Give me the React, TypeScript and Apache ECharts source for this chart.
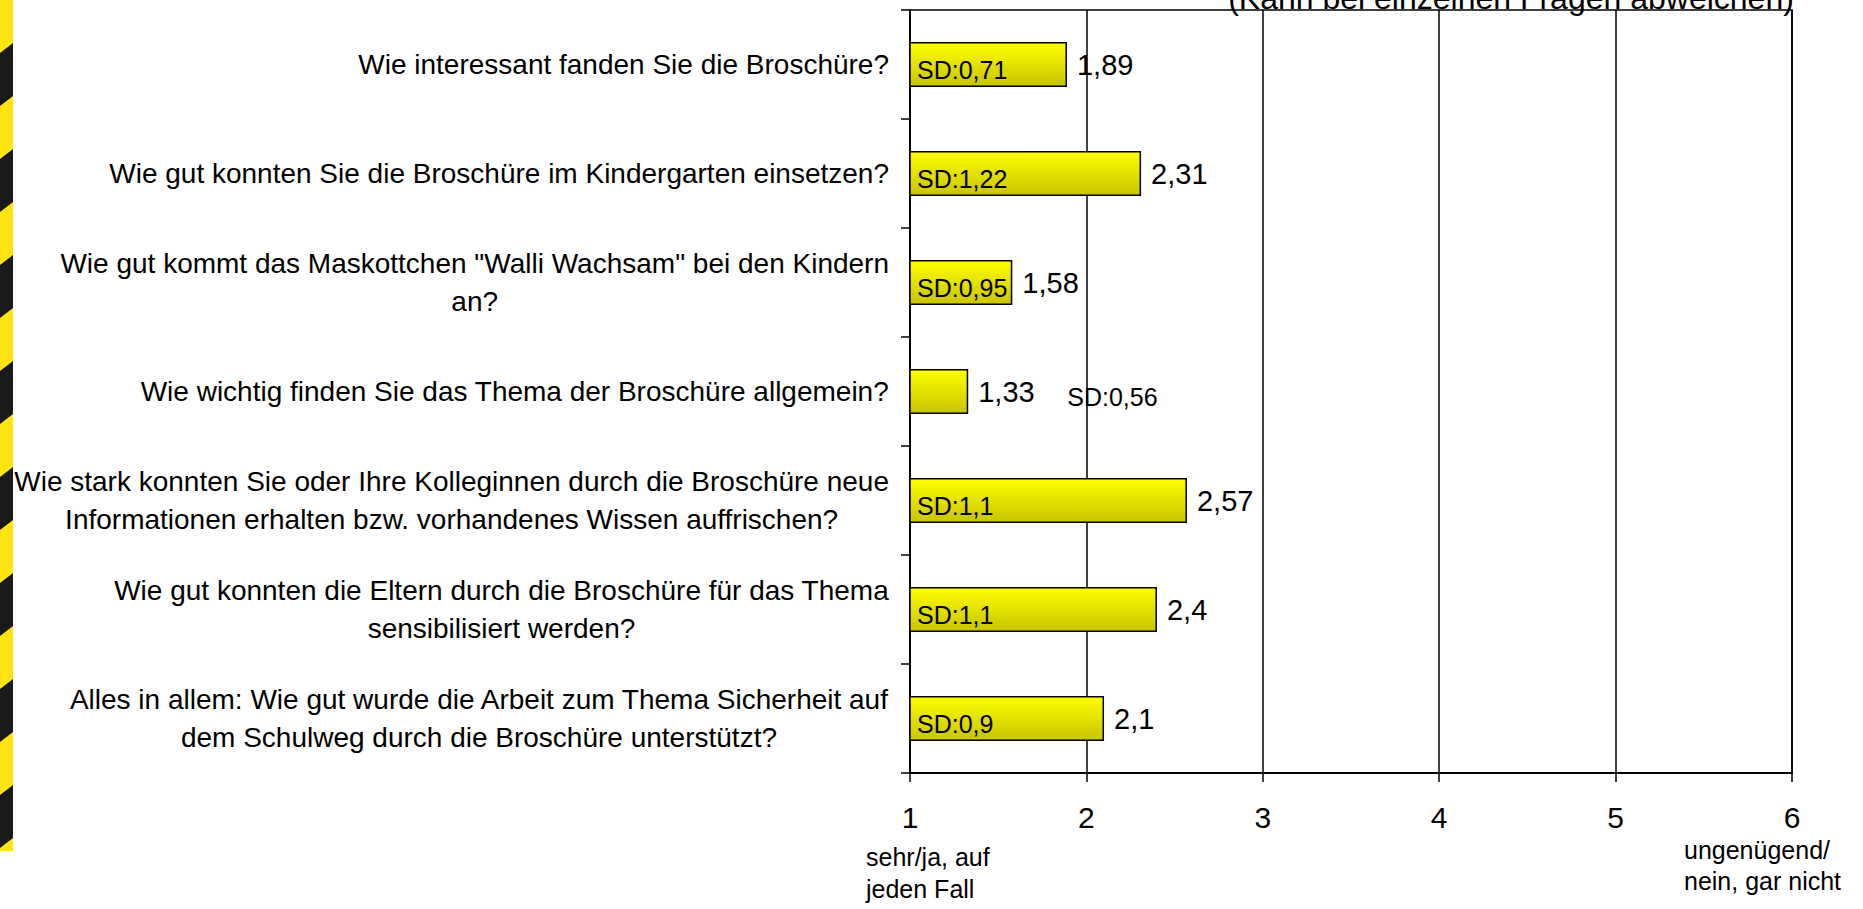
import React, { useEffect, useRef } from 'react';
import * as echarts from 'echarts';

const categories: string[] = [
  'Wie interessant fanden Sie die Broschüre?',
  'Wie gut konnten Sie die Broschüre im Kindergarten einsetzen?',
  'Wie gut kommt das Maskottchen "Walli Wachsam" bei den Kindern\nan?',
  'Wie wichtig finden Sie das Thema der Broschüre allgemein?',
  'Wie stark konnten Sie oder Ihre Kolleginnen durch die Broschüre neue\nInformationen erhalten bzw. vorhandenes Wissen auffrischen?',
  'Wie gut konnten die Eltern durch die Broschüre für das Thema\nsensibilisiert werden?',
  'Alles in allem: Wie gut wurde die Arbeit zum Thema Sicherheit auf\ndem Schulweg durch die Broschüre unterstützt?',
];
const meanValues: number[] = [1.89, 2.31, 1.58, 1.33, 2.57, 2.4, 2.1];
const sdValues: number[] = [0.71, 1.22, 0.95, 0.56, 1.1, 1.1, 0.9];
const scaleMin = 1;
const scaleMax = 6;
const scaleStep = 1;
const lowEndLabel = 'sehr/ja, auf\njeden Fall';
const highEndLabel = 'ungenügend/\nnein, gar nicht';
const noteText = '(Kann bei einzelnen Fragen abweichen)';

const FONT = '"Liberation Sans", Arial, Helvetica, sans-serif';
const fmt = (v: number) => String(v).replace('.', ',');

function buildStripes() {
  const els: any[] = [];
  const H = 851;
  const W = 13;
  const P = 106;
  const S = 10;
  els.push({ type: 'rect', shape: { x: 0, y: 0, width: W, height: H }, style: { fill: '#1a1a1a' }, silent: true });
  const cl = (y: number) => Math.max(0, Math.min(H, y));
  for (let y0 = -P; y0 < H + P; y0 += P) {
    els.push({
      type: 'polygon',
      silent: true,
      shape: {
        points: [
          [0, cl(y0)],
          [W, cl(y0 - S)],
          [W, cl(y0 - S + P / 2)],
          [0, cl(y0 + P / 2)],
        ],
      },
      style: { fill: '#FFE40F' },
    });
  }
  return els;
}

export default function App() {
  const ref = useRef<HTMLDivElement>(null);
  useEffect(() => {
    if (!ref.current) return;
    const chart = echarts.init(ref.current, null, { renderer: 'svg' });
    const sdOutsideIndex = 3;
    const sdData = meanValues.map((v, i) =>
      i === sdOutsideIndex
        ? { value: v, label: { position: 'right', distance: 99 } }
        : { value: v }
    );
    chart.setOption({
      animation: false,
      backgroundColor: '#ffffff',
      textStyle: { fontFamily: FONT },
      grid: {
        left: 910,
        right: 71,
        top: 10,
        bottom: 136,
        outerBoundsMode: 'none',
        show: true,
        borderColor: '#000',
        borderWidth: 1.5,
        backgroundColor: 'transparent',
      },
      xAxis: {
        type: 'value',
        min: scaleMin,
        max: scaleMax,
        interval: scaleStep,
        axisLine: { show: true, lineStyle: { color: '#000', width: 2 } },
        axisTick: { show: true, length: 9, lineStyle: { color: '#000', width: 1.5 } },
        splitLine: { show: true, lineStyle: { color: '#000', width: 1.5 } },
        axisLabel: { fontSize: 30, color: '#000', margin: 29, fontFamily: FONT },
      },
      yAxis: {
        type: 'category',
        data: categories,
        inverse: true,
        axisLine: { show: true, lineStyle: { color: '#000', width: 2 } },
        axisTick: { show: true, length: 9, lineStyle: { color: '#000', width: 1.5 } },
        splitLine: { show: false },
        axisLabel: {
          interval: 0,
          margin: 21,
          color: '#000',
          fontSize: 28,
          fontFamily: FONT,
          formatter: (val: string) =>
            val
              .split('\n')
              .map((l) => `{c|${l}}`)
              .join('\n'),
          rich: {
            c: { align: 'center', fontSize: 28, lineHeight: 38, fontFamily: FONT, color: '#000' },
          },
        },
      },
      series: [
        {
          type: 'bar',
          data: meanValues,
          barWidth: 45,
          itemStyle: {
            color: new echarts.graphic.LinearGradient(0, 0, 0, 1, [
              { offset: 0, color: '#FFFF00' },
              { offset: 1, color: '#C8C400' },
            ]),
            borderColor: '#000',
            borderWidth: 1.5,
          },
          label: {
            show: true,
            position: 'right',
            distance: 10,
            fontSize: 29,
            color: '#000',
            fontFamily: FONT,
            formatter: (p: any) => fmt(p.value),
          },
          silent: true,
        },
        {
          type: 'bar',
          data: sdData,
          barWidth: 45,
          barGap: '-100%',
          itemStyle: { color: 'rgba(0,0,0,0)', borderWidth: 0 },
          label: {
            show: true,
            position: 'insideLeft',
            distance: 7,
            offset: [0, 5],
            fontSize: 25,
            color: '#000',
            fontFamily: FONT,
            formatter: (p: any) => 'SD:' + fmt(sdValues[p.dataIndex]),
          },
          silent: true,
          z: 3,
        },
      ],
      graphic: [
        ...buildStripes(),
        {
          type: 'text',
          silent: true,
          style: {
            text: noteText,
            x: 1511,
            y: 14,
            align: 'center',
            verticalAlign: 'bottom',
            fontSize: 32,
            fontFamily: FONT,
            fill: '#000',
          },
        },
        {
          type: 'text',
          silent: true,
          style: {
            text: lowEndLabel,
            x: 866,
            y: 841,
            align: 'left',
            verticalAlign: 'top',
            fontSize: 25,
            lineHeight: 32,
            fontFamily: FONT,
            fill: '#000',
          },
        },
        {
          type: 'text',
          silent: true,
          style: {
            text: highEndLabel,
            x: 1684,
            y: 834,
            align: 'left',
            verticalAlign: 'top',
            fontSize: 25,
            lineHeight: 31,
            fontFamily: FONT,
            fill: '#000',
          },
        },
      ],
    });
    return () => chart.dispose();
  }, []);
  return (
    <div
      ref={ref}
      style={{ position: 'absolute', left: 0, top: 0, width: 1863, height: 909, background: '#fff' }}
    />
  );
}
